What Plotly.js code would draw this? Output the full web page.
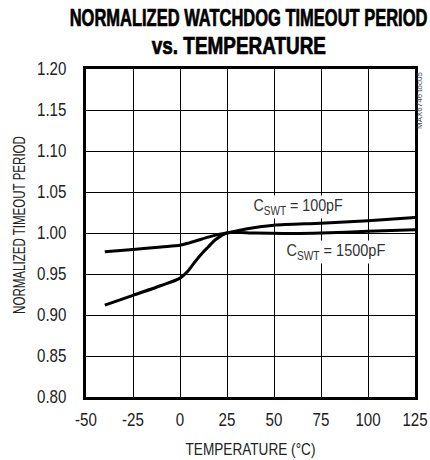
<!DOCTYPE html>
<html>
<head>
<meta charset="utf-8">
<script src="https://cdn.plot.ly/plotly-3.0.1.min.js"></script>
<style>
  html, body { margin: 0; padding: 0; background: #fff; }
  #chart { width: 430px; height: 460px; }
</style>
</head>
<body>
<div id="chart"></div>
<script>
// Data
const temp100 = [-40, -25, -10, 0, 5, 10, 15, 20, 25, 35, 50, 75, 100, 125];
const period100 = [0.977, 0.980, 0.983, 0.985, 0.988, 0.9915, 0.995, 0.998, 1.000, 1.005, 1.0095, 1.012, 1.015, 1.019];

const temp1500 = [-40, -25, -10, 0, 4, 8, 12, 15, 19, 25, 40, 60, 75, 100, 125];
const period1500 = [0.912, 0.924, 0.936, 0.945, 0.953, 0.965, 0.976, 0.983, 0.992, 1.000, 1.000, 0.9995, 1.000, 1.002, 1.004];

const xTicks = [-50, -25, 0, 25, 50, 75, 100, 125];
const yTicks = [0.80, 0.85, 0.90, 0.95, 1.00, 1.05, 1.10, 1.15, 1.20];

const sans = '"Liberation Sans", Arial, Helvetica, sans-serif';

const traces = [
  { x: temp100, y: period100, mode: 'lines', line: { color: '#000', width: 3, shape: 'spline', smoothing: 0.8 }, hoverinfo: 'skip' },
  { x: temp1500, y: period1500, mode: 'lines', line: { color: '#000', width: 3, shape: 'spline', smoothing: 0.8 }, hoverinfo: 'skip' }
];

const layout = {
  width: 430, height: 460,
  margin: { l: 86, r: 15, t: 69, b: 63 },
  paper_bgcolor: '#fff', plot_bgcolor: '#fff',
  showlegend: false,
  font: { family: sans, color: '#222', size: 16 },
  xaxis: {
    range: [-50, 125], tickvals: xTicks, ticktext: xTicks.map(String),
    showgrid: true, gridcolor: '#000', gridwidth: 1,
    showline: true, mirror: true, linecolor: '#000', linewidth: 3,
    zeroline: false, ticks: '', ticklabelstandoff: 4, ticklabeloverflow: 'allow',
    tickfont: { family: sans, size: 18, color: '#222' },
    title: { text: 'TEMPERATURE (°C)', font: { family: sans, size: 17, color: '#222' }, standoff: 15 }
  },
  yaxis: {
    range: [0.80, 1.20], tickvals: yTicks, ticktext: yTicks.map(v => v.toFixed(2)),
    showgrid: true, gridcolor: '#000', gridwidth: 1,
    showline: true, mirror: true, linecolor: '#000', linewidth: 3,
    zeroline: false, ticks: '', ticklabelstandoff: 13, ticklabeloverflow: 'allow',
    tickfont: { family: sans, size: 18, color: '#222' },
    title: { text: 'NORMALIZED TIMEOUT PERIOD', font: { family: sans, size: 17, color: '#222' }, standoff: 2 }
  },
  annotations: [
    { xref: 'paper', yref: 'paper', x: (248 - 86) / 329, y: 1.154, text: '<b>NORMALIZED WATCHDOG TIMEOUT PERIOD</b>',
      showarrow: false, xanchor: 'center', yanchor: 'middle', font: { family: sans, size: 23, color: '#000' } },
    { xref: 'paper', yref: 'paper', x: (238.5 - 86) / 329, y: 1.070, text: '<b>vs. TEMPERATURE</b>',
      showarrow: false, xanchor: 'center', yanchor: 'middle', font: { family: sans, size: 23, color: '#000' } },
    { xref: 'x', yref: 'y', x: 62.8, y: 1.032, text: 'C<sub>SWT</sub> = 100pF', showarrow: false,
      bgcolor: '#fff', borderpad: 0, font: { family: sans, size: 17, color: '#333' } },
    { xref: 'x', yref: 'y', x: 83.2, y: 0.977, text: 'C<sub>SWT</sub> = 1500pF', showarrow: false,
      bgcolor: '#fff', borderpad: 0, font: { family: sans, size: 17, color: '#333' } },
    { xref: 'paper', yref: 'paper', x: (419 - 86) / 329, y: (397 - 100) / 328, text: 'MAX6746 toc05', textangle: -90, showarrow: false,
      xanchor: 'center', yanchor: 'middle', font: { family: sans, size: 8, color: '#444' } }
  ]
};

// Horizontally condense text (the reference uses a narrow typeface)
function squeeze(el, opts) {
  const bb = el.getBBox();
  if (!bb || !bb.width) return;
  const s = opts.width ? opts.width / bb.width : opts.scale;
  const a = opts.anchor || 'middle';
  const dx = opts.shift || 0;
  const cx = a === 'end' ? bb.x + bb.width : a === 'start' ? bb.x : bb.x + bb.width / 2;
  const prev = el.getAttribute('transform') || '';
  el.setAttribute('transform', prev + ' translate(' + (cx + dx) + ',0) scale(' + s + ',1) translate(' + (-cx) + ',0)');
}

Plotly.newPlot('chart', traces, layout, { staticPlot: true, displayModeBar: false }).then(function (gd) {
  gd.querySelectorAll('.xtick text').forEach(t => squeeze(t, { scale: 0.84, anchor: 'middle' }));
  gd.querySelectorAll('.ytick text').forEach(t => squeeze(t, { scale: 0.84, anchor: 'end' }));
  const xt = gd.querySelector('.xtitle'); if (xt) squeeze(xt, { width: 130 });
  const yt = gd.querySelector('.ytitle'); if (yt) squeeze(yt, { width: 178, shift: 8 });
  const ann = gd.querySelectorAll('.annotation-text-g');
  const widths = [360, 177, 90, 100];
  ann.forEach((g, i) => {
    if (i >= widths.length) return;
    if (i < 2) {
      const t = g.querySelector('text');
      if (t) { t.style.stroke = '#000'; t.style.strokeWidth = '0.7px'; }
    }
    squeeze(g, { width: widths[i] });
  });
});
</script>
</body>
</html>
